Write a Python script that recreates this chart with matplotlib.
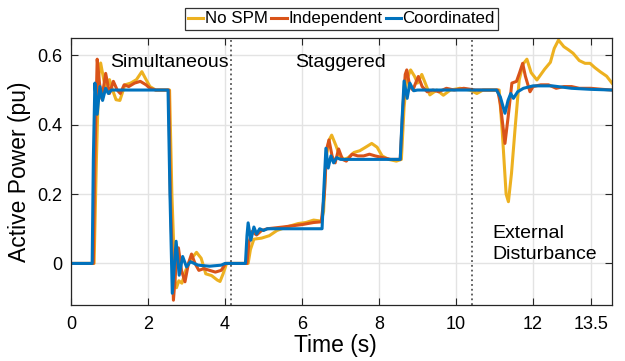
import numpy as np
import matplotlib
matplotlib.use('Agg')
import matplotlib.pyplot as plt

plt.rcParams['font.family'] = ['Liberation Sans', 'DejaVu Sans']

# (time s, active power pu) for each control case
no_spm = [(0, 0), (0.6, 0), (0.66, 0.3), (0.72, 0.54), (0.77, 0.578), (0.85, 0.53),
          (0.92, 0.5), (1.0, 0.53), (1.08, 0.5), (1.17, 0.472), (1.27, 0.47), (1.4, 0.515),
          (1.55, 0.52), (1.7, 0.53), (1.84, 0.553), (1.95, 0.53), (2.05, 0.51), (2.2, 0.5),
          (2.56, 0.5), (2.62, 0.2), (2.7, -0.05), (2.74, -0.07), (2.8, -0.05), (2.88, -0.057),
          (2.98, -0.02), (3.1, 0.01), (3.26, 0.032), (3.38, 0.015), (3.5, -0.03), (3.65, -0.035),
          (3.8, -0.048), (3.87, -0.052), (3.95, -0.03), (4.04, 0.0), (4.6, 0), (4.66, 0.04),
          (4.75, 0.07), (4.95, 0.073), (5.15, 0.08), (5.35, 0.095), (5.6, 0.105), (5.9, 0.115),
          (6.1, 0.118), (6.3, 0.125), (6.5, 0.122), (6.56, 0.15), (6.62, 0.3), (6.7, 0.355),
          (6.77, 0.37), (6.88, 0.34), (6.98, 0.31), (7.1, 0.3), (7.2, 0.305), (7.35, 0.32),
          (7.5, 0.325), (7.65, 0.335), (7.81, 0.346), (7.95, 0.335), (8.08, 0.31), (8.25, 0.3),
          (8.45, 0.295), (8.58, 0.3), (8.65, 0.45), (8.72, 0.53), (8.82, 0.558), (8.92, 0.54),
          (9.0, 0.52), (9.11, 0.545), (9.2, 0.52), (9.32, 0.486), (9.5, 0.5), (9.67, 0.485),
          (9.85, 0.5), (10.1, 0.505), (10.36, 0.5), (10.54, 0.49), (10.7, 0.5), (11.12, 0.5),
          (11.2, 0.38), (11.3, 0.2), (11.36, 0.178), (11.44, 0.26), (11.53, 0.385), (11.64, 0.529),
          (11.74, 0.575), (11.84, 0.589), (11.95, 0.55), (12.1, 0.529), (12.3, 0.56), (12.45, 0.58),
          (12.55, 0.62), (12.66, 0.644), (12.8, 0.625), (12.92, 0.616), (13.04, 0.606), (13.2, 0.585),
          (13.35, 0.577), (13.48, 0.577), (13.6, 0.565), (13.74, 0.553), (13.91, 0.54), (14.05, 0.52)]

independent = [(0, 0), (0.58, 0), (0.62, 0.3), (0.68, 0.589), (0.74, 0.52), (0.8, 0.475),
               (0.9, 0.548), (1.0, 0.49), (1.1, 0.525), (1.2, 0.5), (1.28, 0.49), (1.38, 0.515),
               (1.5, 0.51), (1.65, 0.52), (1.8, 0.525), (1.95, 0.515), (2.05, 0.505), (2.2, 0.5),
               (2.54, 0.5), (2.58, 0.2), (2.66, -0.106), (2.72, -0.02), (2.79, 0.045), (2.87, -0.02),
               (2.96, -0.053), (3.05, 0.0), (3.13, 0.027), (3.22, 0.0), (3.32, -0.02), (3.45, -0.015),
               (3.6, -0.02), (3.75, -0.025), (3.9, -0.02), (4.02, 0.0), (4.57, 0), (4.62, 0.06),
               (4.7, 0.092), (4.82, 0.082), (4.95, 0.095), (5.1, 0.1), (5.5, 0.105), (6.0, 0.112),
               (6.3, 0.118), (6.5, 0.12), (6.58, 0.2), (6.64, 0.33), (6.7, 0.356), (6.78, 0.31),
               (6.86, 0.29), (6.95, 0.33), (7.05, 0.3), (7.15, 0.295), (7.3, 0.315), (7.45, 0.31),
               (7.6, 0.31), (7.75, 0.315), (7.9, 0.31), (8.1, 0.305), (8.3, 0.3), (8.55, 0.3),
               (8.62, 0.45), (8.68, 0.545), (8.72, 0.558), (8.8, 0.51), (8.88, 0.5), (8.95, 0.52),
               (9.02, 0.539), (9.12, 0.51), (9.25, 0.495), (9.4, 0.5), (9.55, 0.495), (9.75, 0.505),
               (9.95, 0.5), (10.2, 0.505), (10.5, 0.5), (11.08, 0.5), (11.15, 0.46), (11.27, 0.346),
               (11.35, 0.42), (11.45, 0.52), (11.57, 0.525), (11.65, 0.55), (11.73, 0.577), (11.8, 0.54),
               (11.92, 0.495), (12.0, 0.51), (12.2, 0.515), (12.4, 0.515), (12.6, 0.505), (12.8, 0.51),
               (13.0, 0.51), (13.2, 0.505), (13.5, 0.505), (13.8, 0.502), (14.05, 0.5)]

coordinated = [(0, 0), (0.55, 0), (0.58, 0.3), (0.62, 0.52), (0.68, 0.43), (0.75, 0.51),
               (0.82, 0.47), (0.9, 0.505), (0.97, 0.49), (1.05, 0.5), (2.52, 0.5), (2.57, 0.2),
               (2.63, -0.086), (2.73, 0.064), (2.81, -0.034), (2.9, 0.02), (3.0, -0.01), (3.1, 0.005),
               (3.3, -0.005), (3.6, -0.008), (3.9, -0.005), (4.0, 0), (4.53, 0), (4.57, 0.08),
               (4.6, 0.117), (4.67, 0.067), (4.75, 0.105), (4.82, 0.085), (4.9, 0.1), (5.0, 0.095),
               (5.1, 0.1), (6.52, 0.1), (6.56, 0.2), (6.62, 0.332), (6.68, 0.275), (6.75, 0.31),
               (6.82, 0.29), (6.9, 0.305), (7.0, 0.3), (8.55, 0.3), (8.6, 0.42), (8.65, 0.526),
               (8.73, 0.476), (8.8, 0.52), (8.9, 0.498), (9.0, 0.5), (11.05, 0.5), (11.15, 0.48),
               (11.27, 0.433), (11.35, 0.47), (11.42, 0.49), (11.49, 0.476), (11.6, 0.495),
               (11.75, 0.505), (12.0, 0.512), (12.5, 0.512), (13.0, 0.505), (13.5, 0.502), (14.05, 0.5)]

labels = ['No SPM', 'Independent', 'Coordinated']
colors = ['#EDB120', '#D95319', '#0072BD']
event_times = [4.15, 10.42]
xticks = [0, 2, 4, 6, 8, 10, 12, 13.5]
xtick_labels = ['0', '2', '4', '6', '8', '10', '12', '13.5']
yticks = [0, 0.2, 0.4, 0.6]
ytick_labels = ['0', '0.2', '0.4', '0.6']

fig = plt.figure(figsize=(6.25, 3.61), dpi=100)
ax = fig.add_axes([0.1136, 0.155, 0.8656, 0.7397])

for data, lbl, c in zip([no_spm, independent, coordinated], labels, colors):
    t, p = np.array(data).T
    ax.plot(t, p, '-', color=c, lw=2.2, label=lbl, solid_joinstyle='round')

for te in event_times:
    ax.axvline(te, color='#555555', ls=':', lw=1.3)

ax.text(1.01, 0.58, 'Simultaneous', fontsize=14, ha='left', va='center')
ax.text(5.82, 0.58, 'Staggered', fontsize=14, ha='left', va='center')
ax.text(10.94, 0.055, 'External\nDisturbance', fontsize=14, ha='left', va='center',
        linespacing=1.3)

ax.set_xlim(0, 14.05)
ax.set_ylim(-0.12, 0.65)
ax.set_xticks(xticks)
ax.set_xticklabels(xtick_labels)
ax.set_yticks(yticks)
ax.set_yticklabels(ytick_labels)
ax.tick_params(direction='in', length=5, width=0.8, top=True, right=True,
               labelsize=13, colors='#262626', labelcolor='black')
ax.tick_params(axis='x', pad=8)
ax.tick_params(axis='y', pad=6)
ax.grid(True, color='#e3e3e3', lw=1)
ax.set_axisbelow(True)
for s in ax.spines.values():
    s.set_color('#262626')
    s.set_linewidth(0.9)

ax.set_xlabel('Time (s)', fontsize=16.5)
ax.xaxis.set_label_coords(0.488, -0.11)
ax.set_ylabel('Active Power (pu)', fontsize=16.5, labelpad=5)

leg = ax.legend(loc='upper center', bbox_to_anchor=(0.5, 1.112), ncol=3, fontsize=12.2,
                frameon=True, fancybox=False, borderaxespad=0, handlelength=0.9,
                handletextpad=0.1, columnspacing=0.2, borderpad=0.2)
leg.get_frame().set_edgecolor('black')
leg.get_frame().set_linewidth(0.9)

fig.savefig('out.png', dpi=100)
